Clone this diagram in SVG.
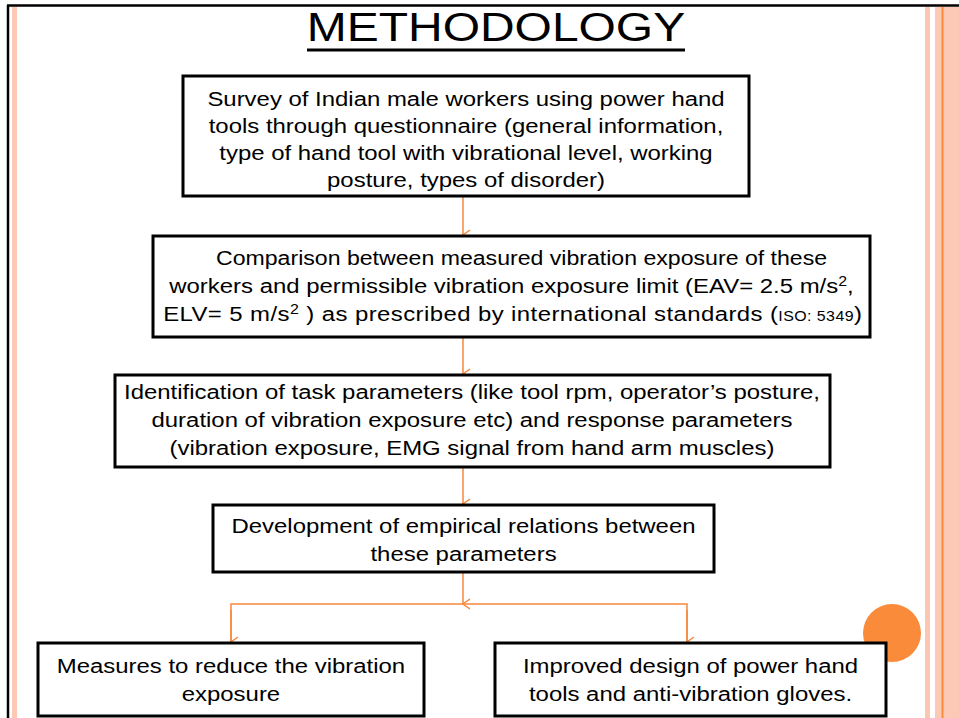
<svg xmlns="http://www.w3.org/2000/svg" width="959" height="718" viewBox="0 0 959 718">
<defs>
<style>
.box{fill:#fff;stroke:#000;stroke-width:3}
.t{font-family:"Liberation Sans",Arial,sans-serif;font-size:21px;fill:#000;text-anchor:middle}
.c{fill:none;stroke:#f7883b;stroke-width:1.5}
.sm{font-size:14px}
</style>
<marker id="ah" viewBox="0 0 12 12" refX="6" refY="11" markerWidth="12" markerHeight="12" markerUnits="userSpaceOnUse" orient="auto-start-reverse">
<path d="M1,4 L6,11 L11,4" fill="none" stroke="#f7883b" stroke-width="1.5"/>
</marker>
</defs>
<rect width="959" height="718" fill="#fff"/>
<g id="frame">
<line x1="7" y1="5.5" x2="959" y2="5.5" stroke="#000" stroke-width="2.5"/>
<line x1="8" y1="5" x2="8" y2="718" stroke="#000" stroke-width="2.5"/>
<rect x="12" y="7" width="5" height="711" fill="#fdc8b4"/>
<rect x="925" y="7" width="5" height="711" fill="#fcc6b1"/>
<rect x="935" y="7" width="24" height="711" fill="#fcc9b6"/>
<rect x="941.5" y="7" width="2" height="711" fill="#f98b3a"/>
<circle cx="892" cy="633" r="29" fill="#f98b3a"/>
</g>
<g id="title">
<text x="423.9" y="41" class="t" style="font-size:41px" transform="scale(1.17,1)">METHODOLOGY</text>
<line x1="307" y1="50" x2="685" y2="50" stroke="#000" stroke-width="3"/>
</g>
<g id="connectors">
<line class="c" x1="463" y1="197" x2="463" y2="235" marker-end="url(#ah)"/>
<line class="c" x1="463" y1="338" x2="463" y2="374" marker-end="url(#ah)"/>
<line class="c" x1="463" y1="468" x2="463" y2="504" marker-end="url(#ah)"/>
<line class="c" x1="463" y1="573" x2="463" y2="604" marker-end="url(#ah)"/>
<polyline class="c" points="231,643 231,604 687,604 687,643"/>
<line class="c" x1="231" y1="610" x2="231" y2="642" marker-end="url(#ah)"/>
<line class="c" x1="687" y1="610" x2="687" y2="642" marker-end="url(#ah)"/>
</g>
<g id="n1">
<rect class="box" x="183" y="76" width="566" height="120"/>
<g transform="scale(1.14,1)">
<text class="t" x="408.8" y="106">Survey of Indian male workers using power hand</text>
<text class="t" x="408.8" y="133">tools through questionnaire (general information,</text>
<text class="t" x="408.8" y="160">type of hand tool with vibrational level, working</text>
<text class="t" x="408.8" y="187">posture, types of disorder)</text>
</g>
</g>
<g id="n2">
<rect class="box" x="153" y="236" width="717" height="101"/>
<g transform="scale(1.14,1)">
<text class="t" x="457.5" y="265" textLength="536" lengthAdjust="spacingAndGlyphs">Comparison between measured vibration exposure of these</text>
<text class="t" x="448.7" y="293">workers and permissible vibration exposure limit (EAV= 2.5 m/s<tspan dy="-7" class="sm">2</tspan><tspan dy="7">,</tspan></text>
<text class="t" x="449.6" y="321" textLength="613" lengthAdjust="spacing">ELV= 5 m/s<tspan dy="-7" class="sm">2</tspan><tspan dy="7"> ) as prescribed by international standards (</tspan><tspan class="sm">ISO: 5349</tspan>)</text>
</g>
</g>
<g id="n3">
<rect class="box" x="115" y="375" width="715" height="92"/>
<g transform="scale(1.14,1)">
<text class="t" x="414" y="399">Identification of task parameters (like tool rpm, operator’s posture,</text>
<text class="t" x="414" y="427">duration of vibration exposure etc) and response parameters</text>
<text class="t" x="414" y="455">(vibration exposure, EMG signal from hand arm muscles)</text>
</g>
</g>
<g id="n4">
<rect class="box" x="213" y="505" width="501" height="67"/>
<g transform="scale(1.14,1)">
<text class="t" x="406.6" y="533">Development of empirical relations between</text>
<text class="t" x="406.6" y="561">these parameters</text>
</g>
</g>
<g id="n5">
<rect class="box" x="38" y="643" width="386" height="73"/>
<g transform="scale(1.14,1)">
<text class="t" x="202.6" y="673">Measures to reduce the vibration</text>
<text class="t" x="202.6" y="701">exposure</text>
</g>
</g>
<g id="n6">
<rect class="box" x="495" y="643" width="391" height="73"/>
<g transform="scale(1.14,1)">
<text class="t" x="605.7" y="673">Improved design of power hand</text>
<text class="t" x="605.7" y="701">tools and anti-vibration gloves.</text>
</g>
</g>
</svg>
